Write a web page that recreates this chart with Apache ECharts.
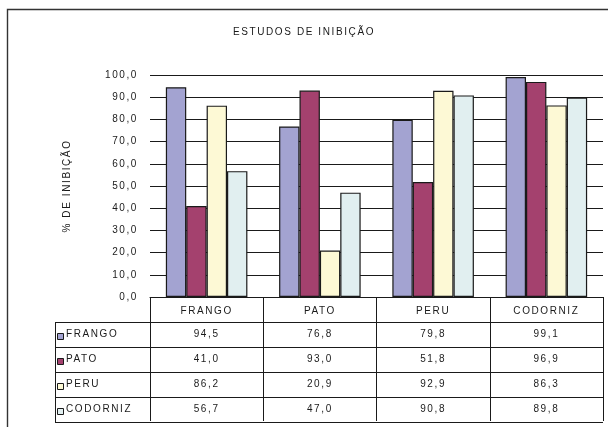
<!DOCTYPE html>
<html><head><meta charset="utf-8">
<script src="https://cdn.jsdelivr.net/npm/echarts@6/dist/echarts.min.js"></script>
<style>html,body{margin:0;padding:0;background:#fff}#c{width:608px;height:427px}</style>
</head><body><div id="c"></div>
<script>
const title = 'ESTUDOS DE INIBIÇÃO';
const yAxisName = '% DE INIBIÇÃO';
const categories = ['FRANGO', 'PATO', 'PERU', 'CODORNIZ'];
const seriesNames = ['FRANGO', 'PATO', 'PERU', 'CODORNIZ'];
const frango = [94.5, 76.8, 79.8, 99.1];
const pato = [41.0, 93.0, 51.8, 96.9];
const peru = [86.2, 20.9, 92.9, 86.3];
const codorniz = [56.7, 47.0, 90.8, 89.8];
const seriesValues = [frango, pato, peru, codorniz];
const colors = ['#a3a3d1', '#a4416e', '#fdf9d5', '#e1eff0'];

// Wide letter spacing like the reference rendering
(function () {
  const proto = CanvasRenderingContext2D.prototype;
  const d = Object.getOwnPropertyDescriptor(proto, 'font');
  if (d && d.set && ('letterSpacing' in proto)) {
    Object.defineProperty(proto, 'font', {
      configurable: true,
      get() { return d.get.call(this); },
      set(v) { d.set.call(this, v); this.letterSpacing = '1.6px'; }
    });
  }
})();

const FONT = 'Liberation Sans';
const INK = '#1a1a1a';
const fmt = v => v.toFixed(1).replace('.', ',');

const chart = echarts.init(document.getElementById('c'), null, {renderer: 'canvas'});
const gridTop = 75, gridBottom = 130, gridLeft = 150, gridRight = 5;

const option = {
  animation: false,
  backgroundColor: '#fff',
  title: {
    text: title, left: 'center', top: 21,
    textStyle: {fontFamily: FONT, fontSize: 10, fontWeight: 'normal', color: INK}
  },
  grid: {left: gridLeft, right: gridRight, top: gridTop, bottom: gridBottom},
  xAxis: {
    type: 'category', data: categories,
    axisLine: {show: true, lineStyle: {color: INK, width: 1}},
    axisTick: {show: true, length: 124, lineStyle: {color: INK, width: 1}},
    axisLabel: {margin: 8, fontFamily: FONT, fontSize: 10, color: INK}
  },
  yAxis: {
    type: 'value', min: 0, max: 100, interval: 10,
    name: yAxisName, nameLocation: 'middle', nameRotate: 90, nameGap: 77,
    nameTextStyle: {fontFamily: FONT, fontSize: 10, color: INK},
    axisLine: {show: false}, axisTick: {show: false},
    axisLabel: {margin: 12, fontFamily: FONT, fontSize: 10, color: INK, formatter: v => fmt(v)},
    splitLine: {show: true, lineStyle: {color: INK, width: 1}}
  },
  series: seriesNames.map((n, i) => ({
    name: n, type: 'bar', data: seriesValues[i],
    barGap: '0%', barCategoryGap: '28%',
    itemStyle: {color: colors[i], borderColor: INK, borderWidth: 1.2}
  }))
};
chart.setOption(option);

// Data table below the axis, built from the arrays and the axis scale
const y0 = chart.convertToPixel({yAxisIndex: 0}, 0);
const xRight = 608 - gridRight;
const tableLeft = 55;
const headerH = 25, rowH = 25;
const g = [];
g.push({type: 'rect', shape: {x: 7.5, y: 9.5, width: 800, height: 600},
  style: {fill: 'none', stroke: '#333', lineWidth: 1.4}, z: 100});
for (let r = 0; r <= seriesNames.length; r++) {
  const yy = Math.round(y0 + headerH + r * rowH) + 0.5;
  g.push({type: 'line', shape: {x1: tableLeft, y1: yy, x2: xRight, y2: yy},
    style: {stroke: INK, lineWidth: 1}, z: 100});
}
g.push({type: 'line', shape: {x1: tableLeft + 0.5, y1: Math.round(y0 + headerH) + 0.5,
  x2: tableLeft + 0.5, y2: Math.round(y0 + headerH + seriesNames.length * rowH) + 0.5},
  style: {stroke: INK, lineWidth: 1}, z: 100});
seriesNames.forEach((n, r) => {
  const cy = y0 + headerH + r * rowH + rowH / 2;
  g.push({type: 'rect', shape: {x: 57.5, y: Math.round(cy - 2) + 0.5, width: 6, height: 6},
    style: {fill: colors[r], stroke: INK, lineWidth: 1}, z: 100});
  g.push({type: 'text', x: 66, y: cy, style: {text: n, fontFamily: FONT, fontSize: 10,
    fill: INK, textAlign: 'left', textVerticalAlign: 'middle'}, z: 100});
  categories.forEach((c, k) => {
    const cx = chart.convertToPixel({xAxisIndex: 0}, c);
    g.push({type: 'text', x: cx, y: cy, style: {text: fmt(seriesValues[r][k]), fontFamily: FONT,
      fontSize: 10, fill: INK, textAlign: 'center', textVerticalAlign: 'middle'}, z: 100});
  });
});
chart.setOption({graphic: g});
</script></body></html>
